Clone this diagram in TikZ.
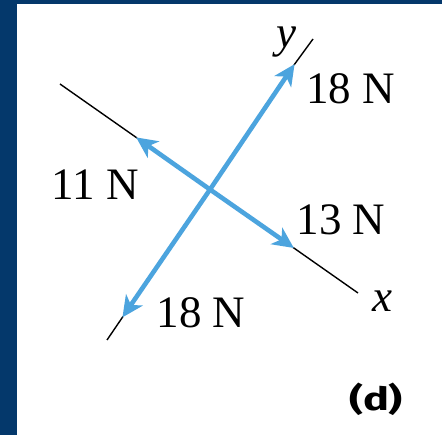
\documentclass[tikz,border=0pt]{standalone}
\usepackage{fontspec}
\setmainfont{Liberation Serif}
\newfontfamily\labelsans{Fira Sans}
\usetikzlibrary{arrows.meta}
\definecolor{navy}{RGB}{4,56,107}
\definecolor{forceblue}{RGB}{76,164,222}
\tikzset{
  axisline/.style={line width=1.4pt, black},
  force/.style={line width=4.6pt, forceblue, -{Stealth[length=21pt, width=20pt, inset=6pt]}, shorten >=-1pt},
  lbl/.style={anchor=base, inner sep=0pt, font=\fontsize{45}{50}\selectfont},
}
\begin{document}
\begin{tikzpicture}[x=1pt, y=-1pt]
  \fill[navy] (0,0) rectangle (442,435);
  \fill[white] (17,4) rectangle (442,435);
  \useasboundingbox (0,0) rectangle (442,435);
  % axis ends and arrow tips
  \coordinate (xl) at (60,84);
  \coordinate (xr) at (358,293);
  \coordinate (yb) at (107,340);
  \coordinate (yt) at (313,39);
  \coordinate (O) at (210,189.5);
  \coordinate (t11) at (137,138);
  \coordinate (t13) at (293,247.4);
  \coordinate (t18u) at (294,65);
  \coordinate (t18d) at (123,316.5);
  % axes
  \draw[axisline] (xl) -- (t11);
  \draw[axisline] (t13) -- (xr);
  \draw[axisline] (yt) -- (t18u);
  \draw[axisline] (t18d) -- (yb);
  % forces
  \draw[force] (O) -- (t11);
  \draw[force] (O) -- (t13);
  \draw[force] (O) -- (t18u);
  \draw[force] (O) -- (t18d);
  % labels
  \node[lbl] (l18u) at (350.5,104) {18 N};
  \node[lbl] (l11) at (95,200) {11 N};
  \node[lbl] (l13) at (341,235) {13 N};
  \node[lbl] (l18d) at (201,328) {18 N};
  \node[lbl] (lx) at (382,312) {\itshape x};
  \node[lbl] (ly) at (286,48) {\itshape y};
  \node[anchor=base, inner sep=0pt, xscale=1.35, transform shape, font=\labelsans\bfseries\fontsize{32}{36}\selectfont] (ld) at (376,411) {(d)};
\end{tikzpicture}
\end{document}
